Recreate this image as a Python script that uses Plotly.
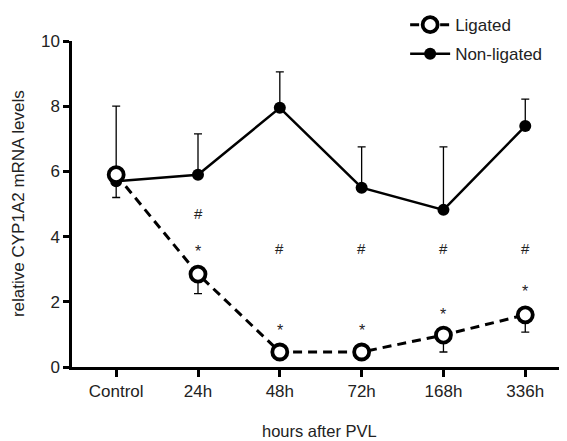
import plotly.graph_objects as go

categories = ["Control", "24h", "48h", "72h", "168h", "336h"]
ligated = [5.9, 2.85, 0.46, 0.46, 0.98, 1.6]
ligated_err_minus = [0.7, 0.6, 0.0, 0.0, 0.52, 0.53]
nonligated = [5.7, 5.9, 7.95, 5.5, 4.82, 7.39]
nonligated_err_plus = [2.3, 1.25, 1.1, 1.25, 1.93, 0.83]

hash_y = [None, 4.72, 3.62, 3.62, 3.62, 3.62]
star_y = [None, 3.65, 1.2, 1.2, 1.7, 2.4]

y_ticks = [0, 2, 4, 6, 8, 10]

x = list(range(len(categories)))
FONT = "Liberation Sans, Arial, Helvetica, sans-serif"

fig = go.Figure()

fig.add_trace(go.Scatter(
    x=x, y=nonligated, name="Non-ligated", mode="lines+markers",
    line=dict(color="black", width=2.5),
    marker=dict(color="black", size=12, symbol="circle"),
    error_y=dict(type="data", symmetric=False, array=nonligated_err_plus,
                 arrayminus=[0] * len(nonligated), color="black", thickness=1.3, width=4),
    legendrank=2, legendgroup="b",
))
fig.add_trace(go.Scatter(
    x=x, y=ligated, name="Ligated", mode="lines+markers",
    line=dict(color="black", width=3, dash="9px,6px"),
    marker=dict(color="white", size=15, symbol="circle", line=dict(color="black", width=3.8)),
    error_y=dict(type="data", symmetric=False, array=[0] * len(ligated),
                 arrayminus=ligated_err_minus, color="black", thickness=1.3, width=4),
    legendrank=1, legendgroup="a",
))

for xi, hy, sy in zip(x, hash_y, star_y):
    if hy is not None:
        fig.add_annotation(x=xi, y=hy, text="#", showarrow=False, yshift=0,
                           font=dict(family=FONT, size=15, color="#222"))
    if sy is not None:
        fig.add_annotation(x=xi, y=sy, text="*", showarrow=False, yshift=-3,
                           font=dict(family=FONT, size=16, color="#222"))

# axis titles as paper annotations
fig.add_annotation(xref="paper", yref="paper", x=0.5, y=-0.196, text="hours after PVL",
                   showarrow=False, xanchor="center", yanchor="middle",
                   font=dict(family=FONT, size=16.5, color="#222"))
fig.add_annotation(xref="paper", yref="paper", x=-0.109, y=0.5,
                   text="relative CYP1A2 mRNA levels", textangle=-90,
                   showarrow=False, xanchor="center", yanchor="middle",
                   font=dict(family=FONT, size=17, color="#222"))

# page body adds an 8px offset; margins compensate for it
fig.update_layout(
    width=567, height=441,
    margin=dict(l=64, r=8, t=33, b=82, autoexpand=False),
    paper_bgcolor="white", plot_bgcolor="white",
    font=dict(family=FONT, size=17, color="#222"),
    showlegend=True,
    legend=dict(x=0.673, y=1.104, xanchor="left", yanchor="top",
                bgcolor="rgba(0,0,0,0)", font=dict(size=17),
                tracegroupgap=4, traceorder="grouped", itemwidth=40),
    xaxis=dict(
        range=[-0.54, 5.51], tickvals=x, ticktext=categories,
        showline=True, linecolor="black", linewidth=2.5,
        ticks="outside", ticklen=7, tickwidth=2.5, tickcolor="black",
        showgrid=False, zeroline=False, automargin=False,
        tickfont=dict(size=17),
    ),
    yaxis=dict(
        range=[0, 10], tickvals=y_ticks,
        showline=True, linecolor="black", linewidth=2.5,
        ticks="outside", ticklen=6, tickwidth=2.5, tickcolor="black",
        showgrid=False, zeroline=False, automargin=False,
        tickfont=dict(size=17),
    ),
)

fig.write_html("out.html")
